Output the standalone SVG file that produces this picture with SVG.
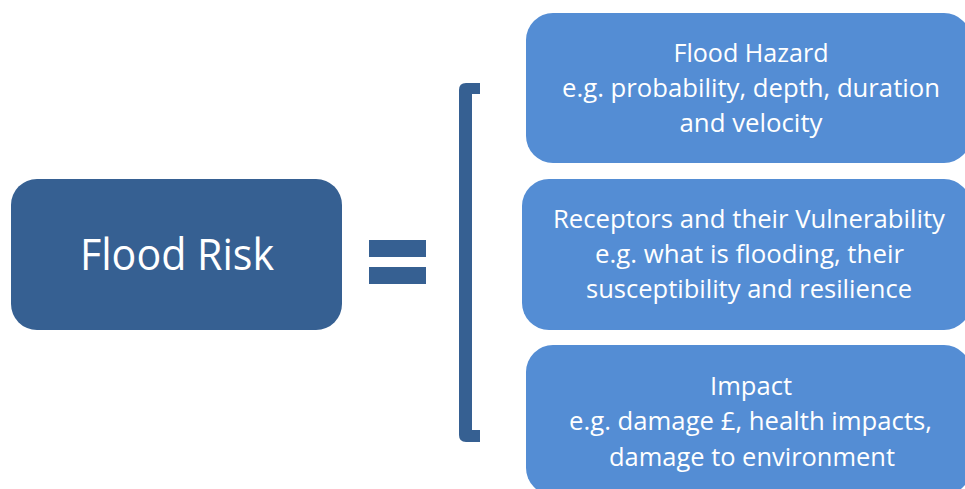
<svg xmlns="http://www.w3.org/2000/svg" width="965" height="489" viewBox="0 0 965 489">
<style>
.dark{fill:#366092}
.light{fill:#548DD4}
.t{font-family:"Open Sans","Liberation Sans",sans-serif;fill:#ffffff;text-anchor:middle}
.s{font-size:26px}
</style>
<rect width="965" height="489" fill="#ffffff"/>
<g id="flood-risk">
<rect class="dark" x="11" y="179" width="331" height="151" rx="26"/>
<text class="t" x="177" y="270" font-size="44" textLength="194" lengthAdjust="spacingAndGlyphs">Flood Risk</text>
</g>
<g id="equals">
<rect class="dark" x="369" y="240" width="57" height="17"/>
<rect class="dark" x="369" y="267" width="57" height="17"/>
</g>
<g id="bracket">
<path class="dark" d="M466 83 H480 V94 H472 V430 H480 V442 H466 Q459 442 459 435 V90 Q459 83 466 83 Z"/>
</g>
<g id="flood-hazard">
<rect class="light" x="526" y="13" width="445" height="150" rx="27"/>
<text class="t s" x="751" y="62" textLength="155" lengthAdjust="spacingAndGlyphs">Flood Hazard</text>
<text class="t s" x="751" y="97" textLength="378" lengthAdjust="spacingAndGlyphs">e.g. probability, depth, duration</text>
<text class="t s" x="751" y="132" textLength="143" lengthAdjust="spacingAndGlyphs">and velocity</text>
</g>
<g id="receptors">
<rect class="light" x="522" y="179" width="449" height="151" rx="27"/>
<text class="t s" x="749" y="228" textLength="392" lengthAdjust="spacingAndGlyphs">Receptors and their Vulnerability</text>
<text class="t s" x="749.5" y="263" textLength="309" lengthAdjust="spacingAndGlyphs">e.g. what is flooding, their</text>
<text class="t s" x="749" y="298" textLength="326" lengthAdjust="spacingAndGlyphs">susceptibility and resilience</text>
</g>
<g id="impact">
<rect class="light" x="526" y="345" width="445" height="150" rx="27"/>
<text class="t s" x="751" y="395" textLength="82" lengthAdjust="spacingAndGlyphs">Impact</text>
<text class="t s" x="750.5" y="430" textLength="363" lengthAdjust="spacingAndGlyphs">e.g. damage £, health impacts,</text>
<text class="t s" x="752" y="466" textLength="286" lengthAdjust="spacingAndGlyphs">damage to environment</text>
</g>
</svg>
